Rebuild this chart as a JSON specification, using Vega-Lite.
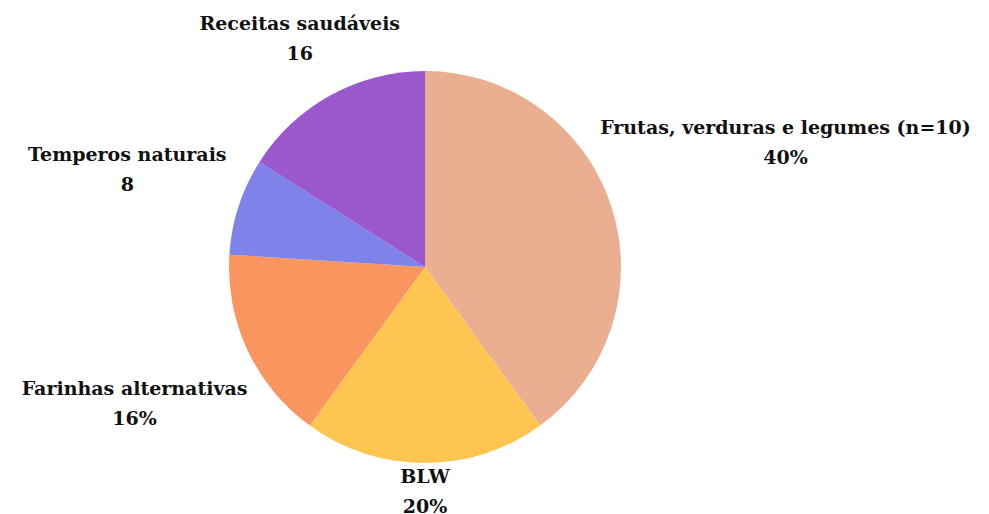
{
  "$schema": "https://vega.github.io/schema/vega-lite/v6.json",
  "width": 850,
  "height": 494,
  "autosize": "none",
  "padding": {"top": 20, "left": 0, "right": 139, "bottom": 0},
  "background": "white",
  "view": {"stroke": null},
  "data": {
    "values": [
      {"ord": 1, "categoria": "Frutas, verduras e legumes (n=10)", "valor": 40, "rotulo": "Frutas, verduras e legumes (n=10)\n40%"},
      {"ord": 2, "categoria": "BLW", "valor": 20, "rotulo": "BLW\n20%"},
      {"ord": 3, "categoria": "Farinhas alternativas", "valor": 16, "rotulo": "Farinhas alternativas\n16%"},
      {"ord": 4, "categoria": "Temperos naturais", "valor": 8, "rotulo": "Temperos naturais\n8"},
      {"ord": 5, "categoria": "Receitas saudáveis", "valor": 16, "rotulo": "Receitas saudáveis\n16"}
    ]
  },
  "encoding": {
    "theta": {"field": "valor", "type": "quantitative", "stack": true},
    "order": {"field": "ord", "type": "quantitative"}
  },
  "layer": [
    {
      "mark": {"type": "arc", "outerRadius": 196},
      "encoding": {
        "color": {
          "field": "categoria",
          "type": "nominal",
          "sort": null,
          "scale": {
            "domain": ["Frutas, verduras e legumes (n=10)", "BLW", "Farinhas alternativas", "Temperos naturais", "Receitas saudáveis"],
            "range": ["#EAAE91", "#FFC551", "#F9955F", "#7F82E8", "#9A58CD"]
          },
          "legend": null
        }
      }
    },
    {
      "mark": {"type": "text", "radius": 379, "font": "DejaVu Serif", "fontWeight": "bold", "fontSize": 19, "lineBreak": "\n", "lineHeight": 30, "align": "center", "baseline": "middle", "dy": -22, "color": "#111111"},
      "encoding": {"text": {"condition": {"test": "datum.ord === 1", "field": "rotulo"}, "value": ""}}
    },
    {
      "mark": {"type": "text", "radius": 224, "font": "DejaVu Serif", "fontWeight": "bold", "fontSize": 19, "lineBreak": "\n", "lineHeight": 30, "align": "center", "baseline": "middle", "dy": -14, "color": "#111111"},
      "encoding": {"text": {"condition": {"test": "datum.ord === 2", "field": "rotulo"}, "value": ""}}
    },
    {
      "mark": {"type": "text", "radius": 321, "font": "DejaVu Serif", "fontWeight": "bold", "fontSize": 19, "lineBreak": "\n", "lineHeight": 30, "align": "center", "baseline": "middle", "dy": -15, "color": "#111111"},
      "encoding": {"text": {"condition": {"test": "datum.ord === 3", "field": "rotulo"}, "value": ""}}
    },
    {
      "mark": {"type": "text", "radius": 313, "font": "DejaVu Serif", "fontWeight": "bold", "fontSize": 19, "lineBreak": "\n", "lineHeight": 30, "align": "center", "baseline": "middle", "dy": -15, "color": "#111111"},
      "encoding": {"text": {"condition": {"test": "datum.ord === 4", "field": "rotulo"}, "value": ""}}
    },
    {
      "mark": {"type": "text", "radius": 260, "font": "DejaVu Serif", "fontWeight": "bold", "fontSize": 19, "lineBreak": "\n", "lineHeight": 30, "align": "center", "baseline": "middle", "dy": -15, "color": "#111111"},
      "encoding": {"text": {"condition": {"test": "datum.ord === 5", "field": "rotulo"}, "value": ""}}
    }
  ]
}
